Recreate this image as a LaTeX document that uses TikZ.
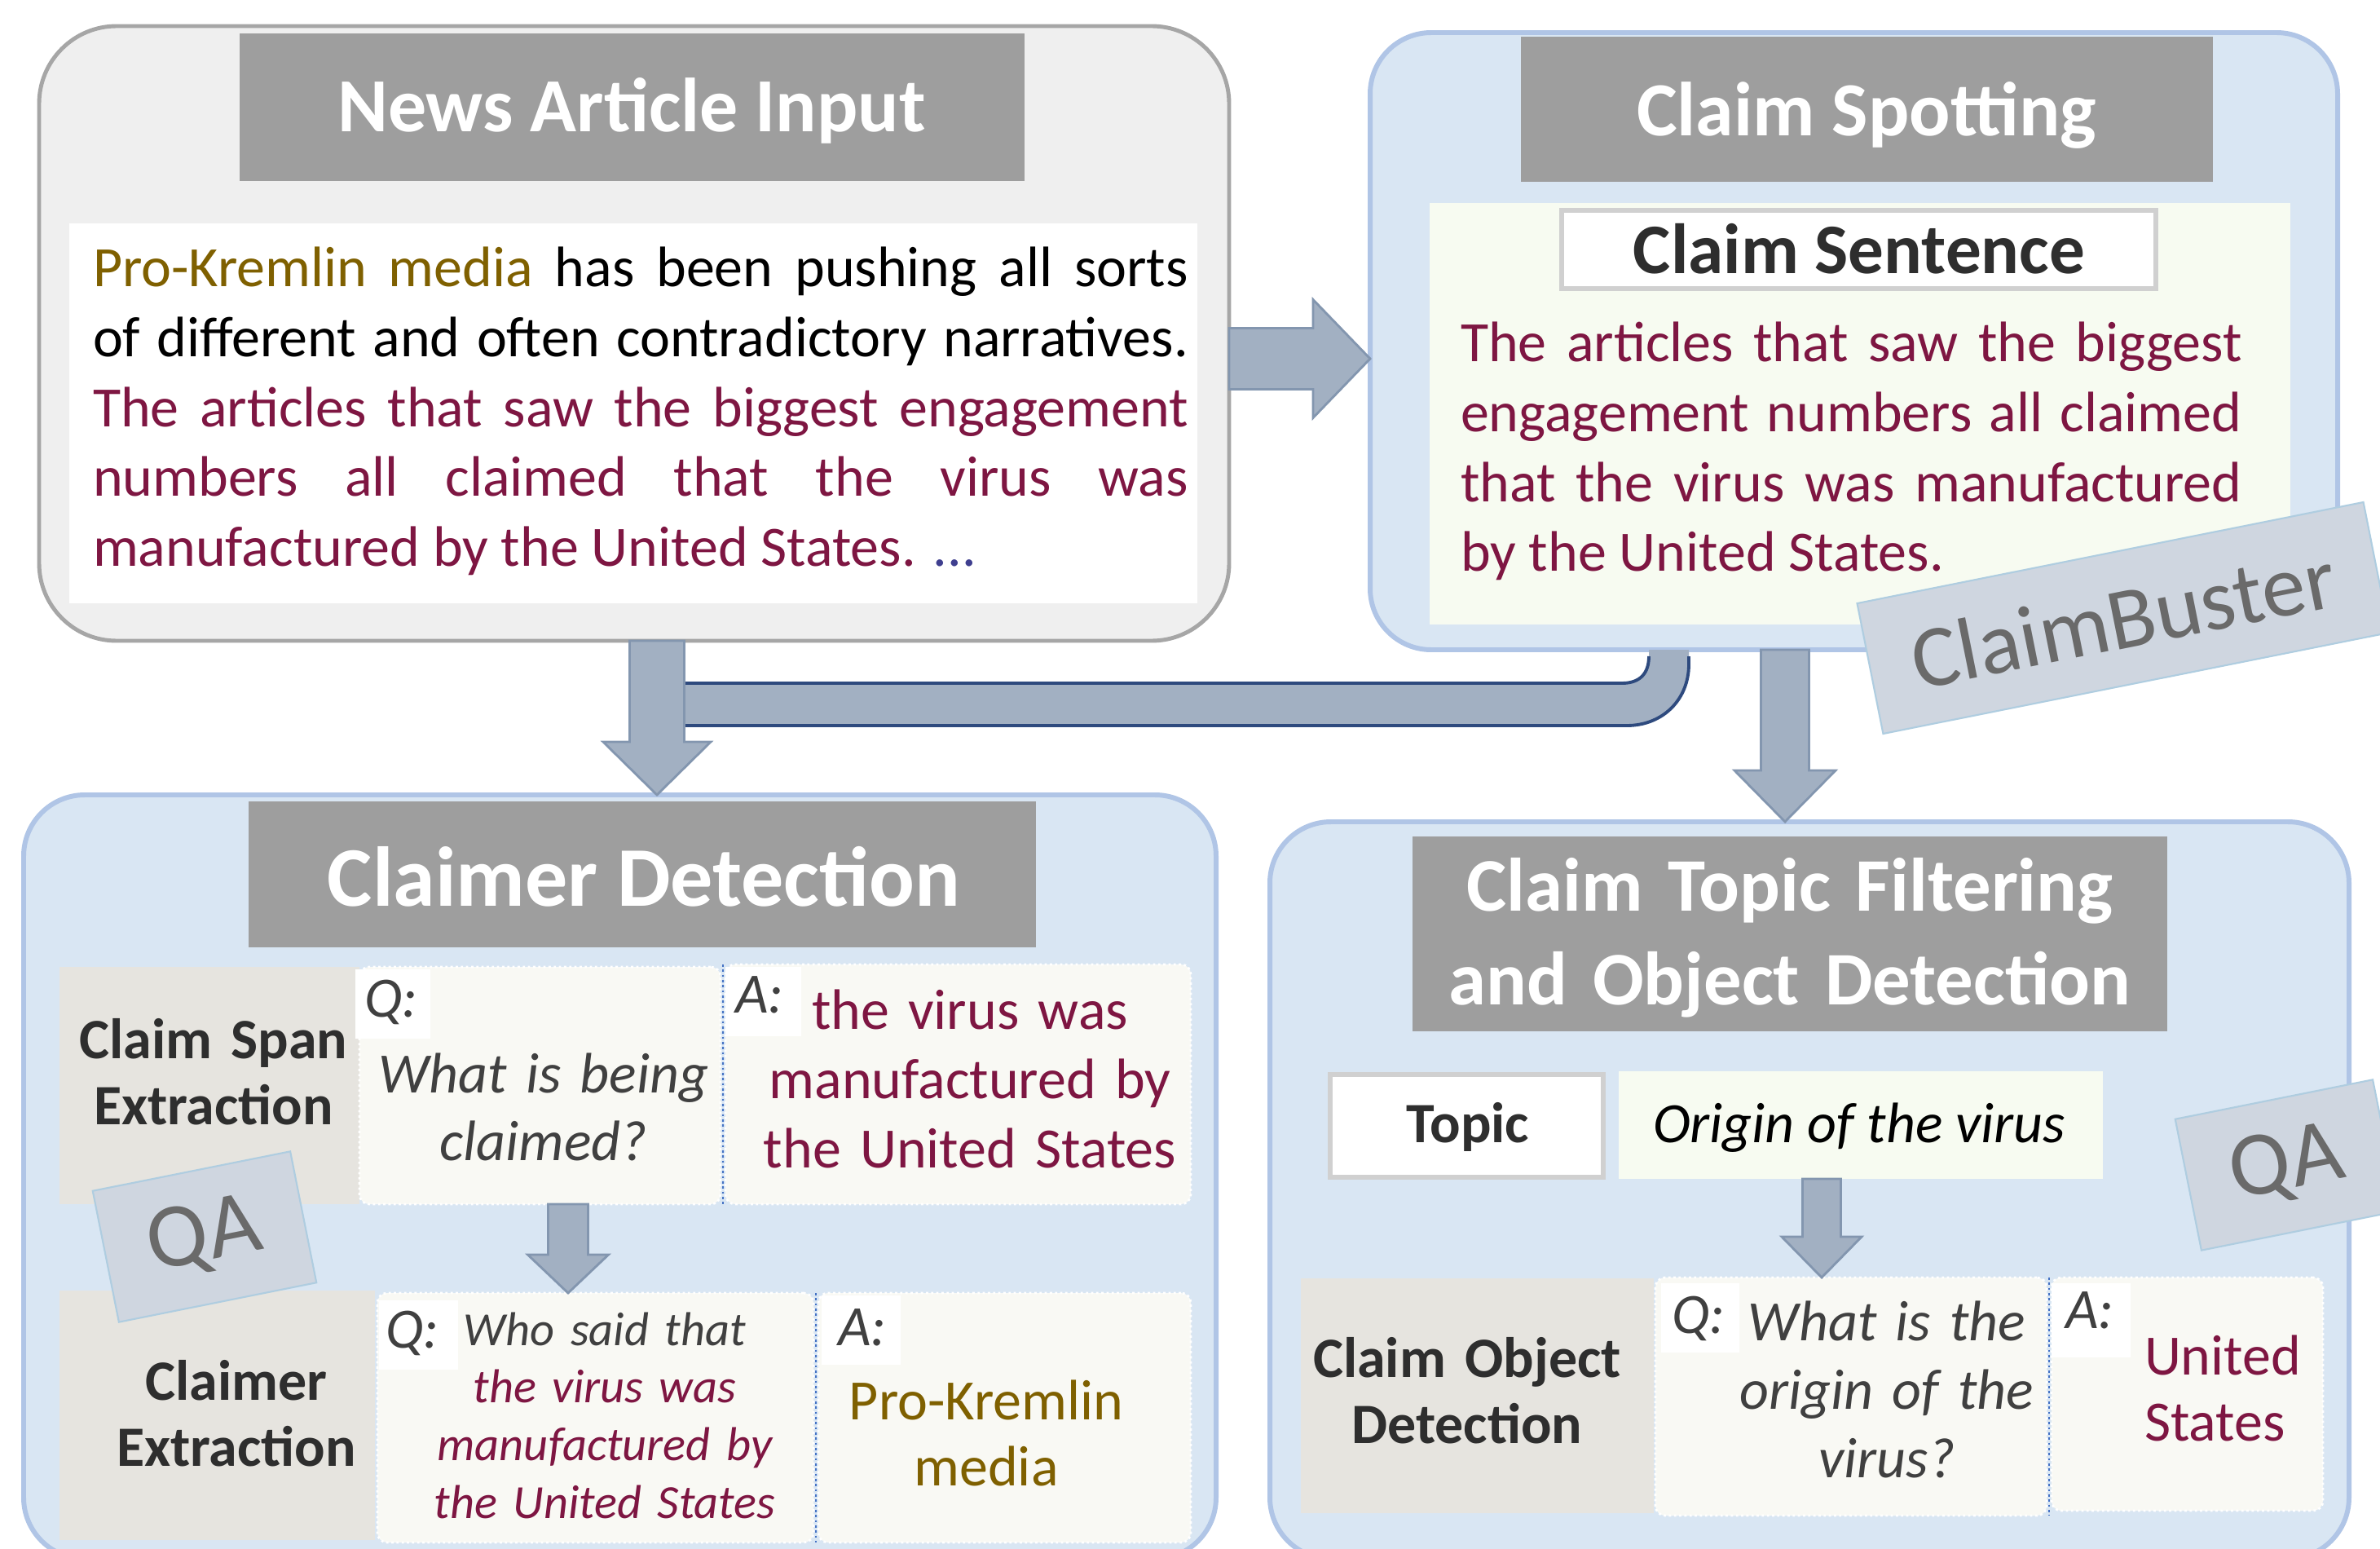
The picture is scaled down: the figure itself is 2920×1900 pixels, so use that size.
\documentclass[tikz,border=0pt]{standalone}
\usepackage{fontspec}
\setmainfont{Carlito}
\usetikzlibrary{calc,fit}
\definecolor{titlegray}{HTML}{9E9E9E}
\definecolor{newsfill}{HTML}{EFEFEF}
\definecolor{newsborder}{HTML}{A6A6A6}
\definecolor{bluefill}{HTML}{D9E6F3}
\definecolor{blueborder}{HTML}{B0C5E6}
\definecolor{greenfill}{HTML}{F7FBF1}
\definecolor{boxgray}{HTML}{D0D0D0}
\definecolor{labelfill}{HTML}{E6E4DF}
\definecolor{cellfill}{HTML}{F9F9F4}
\definecolor{claimred}{HTML}{7E1642}
\definecolor{gold}{HTML}{7F6000}
\definecolor{dots}{HTML}{3F3F8F}
\definecolor{darktext}{HTML}{2E2E2E}
\definecolor{qgray}{HTML}{404040}
\definecolor{arrowfill}{HTML}{A2B0C2}
\definecolor{arrowline}{HTML}{8396AF}
\definecolor{elbowline}{HTML}{2E4A7E}
\definecolor{tagfill}{HTML}{CFD6E0}
\definecolor{tagborder}{HTML}{AFCDE0}
\definecolor{tagtext}{HTML}{6A6A6A}
\definecolor{sepblue}{HTML}{4472C4}
\newlength\pxu \setlength\pxu{0.01cm}
\newcommand\fsz[2]{\fontsize{#1}{#2}\selectfont}
\tikzset{
 area/.style={inner sep=0pt, outer sep=0pt},
 newsbox/.style={fill=newsfill, draw=newsborder, line width=1.4pt, rounded corners=0.95cm},
 bluebox/.style={fill=bluefill, draw=blueborder, line width=1.7pt, rounded corners=0.75cm},
 titlebox/.style={fill=titlegray},
 titletext/.style={text=white, font=\bfseries\fsz{26.7}{32}, anchor=base, inner sep=0pt},
 greenbox/.style={fill=greenfill},
 whitebox/.style={fill=white, draw=boxgray, line width=1.6pt},
 labelcell/.style={fill=labelfill},
 qacell/.style={fill=cellfill, draw=white, densely dotted, line width=0.8pt, rounded corners=0.12cm},
 qabox/.style={fill=white},
 vsep/.style={draw=sepblue, densely dotted, line width=0.8pt},
 blockarrow/.style={fill=arrowfill, draw=arrowline, line width=0.8pt, line join=miter},
 tagbox/.style={fill=tagfill, draw=tagborder, line width=0.6pt, rotate=11.3, text=tagtext, inner sep=0pt},
 tline/.style={anchor=base, inner sep=0pt, outer sep=0pt, align=center, text width=#1},
 qalabel/.style={anchor=base, inner sep=0pt, font=\itshape\fsz{19.9}{24}, text=qgray},
 boldlabel/.style={font=\bfseries\fsz{19.9}{23.3}, text=darktext},
 newsline/.style={anchor=base west, inner sep=0pt, outer sep=0pt, font=\fsz{19.9}{24.3}},
 spotline/.style={anchor=base west, inner sep=0pt, outer sep=0pt, font=\fsz{19.9}{24.4}, text=claimred},
}
% block arrows between named points
\newcommand\blockdown[5]{%
 \filldraw[blockarrow] let \p1=(#1), \p2=(#2) in
   (\x2-#3*\pxu,\y1) -- (\x2+#3*\pxu,\y1) -- (\x2+#3*\pxu,\y2+#5*\pxu) -- (\x2+#4*\pxu,\y2+#5*\pxu)
   -- (\x2,\y2) -- (\x2-#4*\pxu,\y2+#5*\pxu) -- (\x2-#3*\pxu,\y2+#5*\pxu) -- cycle;}
\newcommand\blockright[5]{%
 \filldraw[blockarrow] let \p1=(#1), \p2=(#2) in
   (\x1,\y2+#3*\pxu) -- (\x2-#5*\pxu,\y2+#3*\pxu) -- (\x2-#5*\pxu,\y2+#4*\pxu) -- (\x2,\y2)
   -- (\x2-#5*\pxu,\y2-#4*\pxu) -- (\x2-#5*\pxu,\y2-#3*\pxu) -- (\x1,\y2-#3*\pxu) -- cycle;}
\begin{document}
\begin{tikzpicture}[x=0.01cm,y=-0.01cm]
\useasboundingbox (0,0) rectangle (2920,1900);
\fill[white] (0,0) rectangle (2920,1900);

% ---------- News Article Input ----------
\node[area, newsbox, fit={(48,32) (1508,786)}] (news) {};
\node[area, titlebox, fit={(294,41) (1257,222)}] (newstitle) {};
\node[area, fill=white, fit={(85,274) (1469,740)}] (newsbody) {};
\node[titletext] (newstitletext) at (775,162) {News Article Input};
\node[newsline] (nl1) at (114,352) {\hbox to 13.43cm{\textcolor{gold}{Pro-Kremlin media} has been pushing all sorts}};
\node[newsline] (nl2) at (114,437.5) {\hbox to 13.43cm{of different and often contradictory narratives.}};
\node[newsline, text=claimred] (nl3) at (114,523) {\hbox to 13.43cm{The articles that saw the biggest engagement}};
\node[newsline, text=claimred] (nl4) at (114,608.5) {\hbox to 13.43cm{numbers all claimed that the virus was}};
\node[newsline, text=claimred] (nl5) at (114,694) {manufactured by the United States. \textcolor{dots}{...}};

% ---------- Claim Spotting ----------
\node[area, bluebox, fit={(1681,40) (2868,797)}] (spot) {};
\node[area, titlebox, fit={(1866,45) (2715,223)}] (spottitle) {};
\node[area, greenbox, fit={(1754,249) (2810,766)}] (spotbody) {};
\node[area, whitebox, fit={(1916,258) (2645,354)}] (sentbox) {};
\node[titletext] (spottitletext) at (2290,167) {Claim Spotting};
\node[anchor=base, inner sep=0pt, font=\bfseries\fsz{24.8}{30}, text=darktext] (senttext) at (2281,335) {Claim Sentence};
\node[spotline] (sl1) at (1792,443) {\hbox to 9.58cm{The articles that saw the biggest}};
\node[spotline] (sl2) at (1792,529) {\hbox to 9.58cm{engagement numbers all claimed}};
\node[spotline] (sl3) at (1792,615) {\hbox to 9.58cm{that the virus was manufactured}};
\node[spotline] (sl4) at (1792,700) {by the United States.};

% ---------- Claimer Detection ----------
\node[area, bluebox, fit={(29,975) (1492,1912)}] (claimer) {};
\node[area, titlebox, fit={(305,983) (1271,1162)}] (claimertitle) {};
\node[titletext, font=\bfseries\fsz{29.6}{34}] (claimertitletext) at (790,1111) {Claimer Detection};
\node[area, labelcell, fit={(73,1186) (441,1477)}] (spanlabel) {};
\node[area, qacell, fit={(441,1186) (884,1477)}] (spanq) {};
\node[area, qacell, fit={(890,1183) (1461,1477)}] (spana) {};
\node[area, qabox, fit={(436,1189) (528,1274)}] (spanqtag) {};
\node[area, qabox, fit={(890,1186) (983,1271)}] (spanatag) {};
\draw[vsep] (887,1183) -- (887,1477);
\node[tline=4cm, boldlabel] (spanlabeltext) at (262,1298) {Claim Span\\Extraction};
\node[tline=4.4cm, font=\itshape\fsz{19.9}{23.6}, text=qgray] (spanqtext) at (667,1340) {What is being\\claimed?};
\node[tline=5.6cm, font=\fsz{19.9}{24.2}, text=claimred] (spanatext) at (1190,1262) {the virus was\\manufactured by\\the United States};
\node[qalabel] (spanqlab) at (480,1247) {Q:};
\node[qalabel] (spanalab) at (932,1242) {A:};

\node[area, labelcell, fit={(73,1583) (460,1889)}] (clabel) {};
\node[area, qacell, fit={(463,1586) (998,1892)}] (cq) {};
\node[area, qacell, fit={(1004,1586) (1461,1892)}] (ca) {};
\node[area, qabox, fit={(465,1595) (562,1680)}] (cqtag) {};
\node[area, qabox, fit={(1008,1589) (1105,1674)}] (catag) {};
\draw[vsep] (1001,1586) -- (1001,1892);
\node[tline=4cm, boldlabel] (clabeltext) at (290,1717) {Claimer\\Extraction};
\node[tline=5.2cm, font=\itshape\fsz{16.6}{20.1}, text=claimred] (cqtext) at (742,1650) {\textcolor{qgray}{Who said that}\\the virus was\\manufactured by\\the United States};
\node[tline=4.4cm, font=\fsz{19.9}{23.3}, text=gold] (catext) at (1210,1741) {Pro-Kremlin\\media};
\node[qalabel] (cqlab) at (506,1653) {Q:};
\node[qalabel] (calab) at (1058,1650) {A:};

% ---------- Claim Topic Filtering ----------
\node[area, bluebox, fit={(1558,1008) (2882,1912)}] (topic) {};
\node[area, titlebox, fit={(1733,1026) (2659,1265)}] (topictitle) {};
\node[titletext, text width=9cm, align=center, font=\bfseries\fsz{26.4}{32.7}] (topictitletext) at (2196,1117) {Claim Topic Filtering\\and Object Detection};
\node[area, whitebox, fit={(1632,1318) (1967,1444)}] (topicbox) {};
\node[area, greenbox, fit={(1986,1314) (2580,1446)}] (origin) {};
\node[anchor=base, inner sep=0pt, boldlabel] (topictext) at (1801,1401) {Topic};
\node[anchor=base, inner sep=0pt, font=\itshape\fsz{19.9}{24}, text=black] (origintext) at (2281,1401) {Origin of the virus};
\node[area, labelcell, fit={(1596,1568) (2029,1856)}] (olabel) {};
\node[area, qacell, fit={(2031,1567) (2511,1859)}] (oq) {};
\node[area, qacell, fit={(2517,1567) (2850,1853)}] (oa) {};
\node[area, qabox, fit={(2038,1574) (2134,1659)}] (oqtag) {};
\node[area, qabox, fit={(2517,1574) (2614,1665)}] (oatag) {};
\draw[vsep] (2514,1567) -- (2514,1859);
\node[tline=4.2cm, boldlabel] (olabeltext) at (1800,1689) {Claim Object\\Detection};
\node[tline=4.6cm, font=\itshape\fsz{19.9}{23.9}, text=qgray] (oqtext) at (2315,1644) {What is the\\origin of the\\virus?};
\node[tline=3cm, align=left, anchor=base west, font=\fsz{19.9}{23.3}, text=claimred] (oatext) at (2631,1686) {United\\States};
\node[qalabel] (oqlab) at (2084,1635) {Q:};
\node[qalabel] (oalab) at (2564,1629) {A:};

% ---------- connectors ----------
\fill[arrowfill] (840,838) -- (1990,838) .. controls (2012,838) and (2023,826) .. (2023,805) -- (2023,797)
  -- (2072,797) -- (2072,815) .. controls (2072,858) and (2040,890) .. (1996,890) -- (840,890) -- cycle;
\draw[elbowline, line width=1.1pt] (840,838) -- (1990,838) .. controls (2012,838) and (2023,826) .. (2023,805);
\draw[elbowline, line width=1.1pt] (2072,805) -- (2072,815) .. controls (2072,858) and (2040,890) .. (1996,890) -- (840,890);

\blockright{news.east |- 0,440}{spot.west |- 0,440}{37.5}{72.5}{70}
\blockdown{news.south -| 806,0}{claimer.north -| 806,0}{33.5}{66}{65}
\blockdown{spot.south -| 2190,0}{topic.north -| 2190,0}{29.5}{62}{63}
\blockdown{spanq.south -| 697,0}{cq.north -| 697,0}{24.5}{49.5}{47}
\blockdown{origin.south -| 2235,0}{oq.north -| 2235,0}{23.5}{49}{50}

% ---------- tags ----------
\node[tagbox, minimum width=6.33cm, minimum height=1.63cm, font=\fsz{30.7}{36}] (claimbuster) at (2605,758) {ClaimBuster};
\node[tagbox, minimum width=2.47cm, minimum height=1.64cm, font=\fsz{31.9}{38}] (qaleft) at (251,1517) {QA};
\node[tagbox, minimum width=2.47cm, minimum height=1.64cm, font=\fsz{31.9}{38}] (qaright) at (2806,1429) {QA};
\end{tikzpicture}
\end{document}
